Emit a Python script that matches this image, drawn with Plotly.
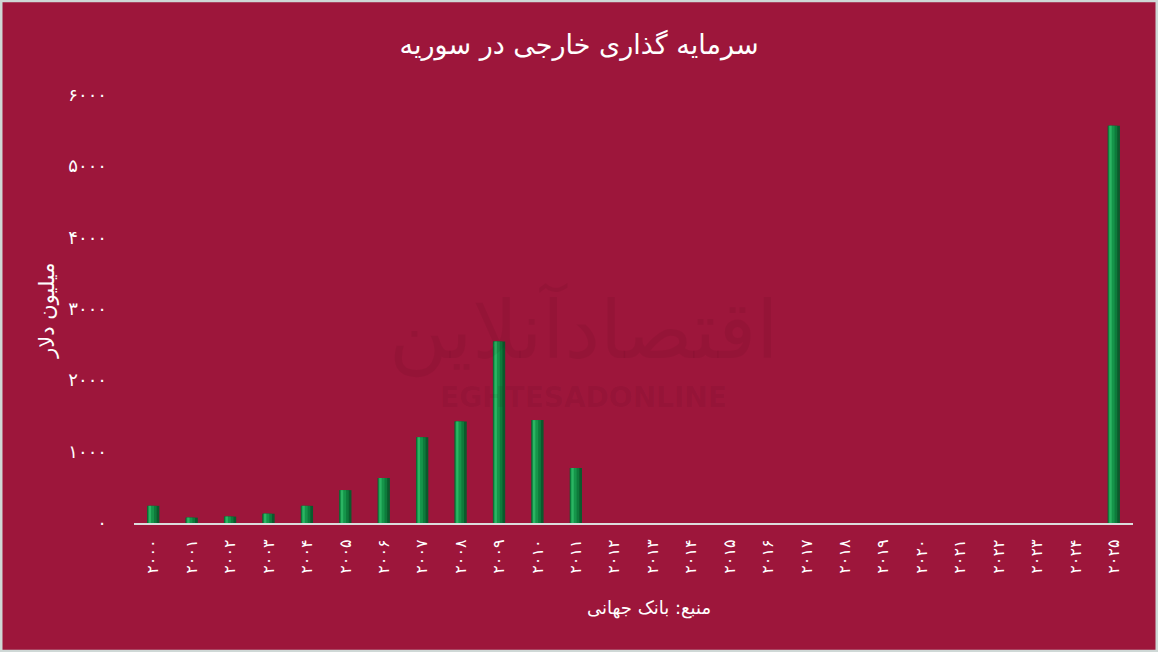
import plotly.graph_objects as go

years = ["۲۰۰۰", "۲۰۰۱", "۲۰۰۲", "۲۰۰۳", "۲۰۰۴", "۲۰۰۵", "۲۰۰۶", "۲۰۰۷", "۲۰۰۸",
         "۲۰۰۹", "۲۰۱۰", "۲۰۱۱", "۲۰۱۲", "۲۰۱۳", "۲۰۱۴", "۲۰۱۵", "۲۰۱۶", "۲۰۱۷",
         "۲۰۱۸", "۲۰۱۹", "۲۰۲۰", "۲۰۲۱", "۲۰۲۲", "۲۰۲۳", "۲۰۲۴", "۲۰۲۵"]
fdi = [240, 75, 90, 130, 240, 460, 630, 1200, 1420, 2540, 1440, 770,
       0, 0, 0, 0, 0, 0, 0, 0, 0, 0, 0, 0, 0, 5560]
y_ticks = [0, 1000, 2000, 3000, 4000, 5000, 6000]
y_tick_labels = ["۰", "۱۰۰۰", "۲۰۰۰", "۳۰۰۰", "۴۰۰۰", "۵۰۰۰", "۶۰۰۰"]

title_text = "سرمایه گذاری خارجی در سوریه"
y_title = "میلیون دلار"
x_title = "منبع: بانک جهانی"

BG = "#9d163b"
FONT = "DejaVu Sans"

fig = go.Figure()
# layered bars to imitate the cylindrical green gradient
layers = [
    (0.32, -0.16, "#0b5a2c"),
    (0.24, -0.15, "#0e7a3b"),
    (0.15, -0.13, "#15954a"),
    (0.06, -0.115, "#2bb563"),
]
for w, off, col in layers:
    fig.add_trace(go.Bar(x=years, y=fdi, width=w, offset=off,
                         marker=dict(color=col, line=dict(width=0)),
                         hoverinfo="skip", showlegend=False))

fig.update_layout(
    width=1158, height=652,
    paper_bgcolor=BG, plot_bgcolor=BG,
    barmode="overlay",
    margin=dict(l=134, r=25, t=90, b=129),
    font=dict(family=FONT, color="white"),
    title=dict(text=title_text, x=0.5, xanchor="center", y=1 - 45 / 652,
               yanchor="middle", font=dict(size=27, color="white", family=FONT)),
    xaxis=dict(type="category", tickangle=-90, showgrid=False, zeroline=False,
               showline=True, linecolor="#dcdcdc", linewidth=2,
               ticks="", tickfont=dict(size=16, color="white"),
               ticklabelstandoff=8),
    yaxis=dict(range=[0, 6060], tickvals=y_ticks, ticktext=y_tick_labels,
               showgrid=False, zeroline=False, showline=False, ticks="",
               tickfont=dict(size=18, color="white"), ticklabelstandoff=26),
    annotations=[
        dict(text=y_title, xref="paper", yref="paper", x=-87 / 999, y=0.49,
             xanchor="center", yanchor="middle", textangle=-90, showarrow=False,
             font=dict(size=21, color="white", family=FONT)),
        dict(text=x_title, xref="paper", yref="paper", x=0.516, y=-(608 - 523) / 433,
             xanchor="center", yanchor="middle", showarrow=False,
             font=dict(size=18, color="white", family=FONT)),
        dict(text="اقتصادآنلاین", xref="paper", yref="paper", x=0.45, y=(523 - 330) / 433,
             xanchor="center", yanchor="middle", showarrow=False,
             font=dict(size=80, color="rgba(60,0,15,0.07)", family=FONT)),
        dict(text="<b>EGHTESADONLINE</b>", xref="paper", yref="paper", x=0.45, y=(523 - 397) / 433,
             xanchor="center", yanchor="middle", showarrow=False,
             font=dict(size=28, color="rgba(60,0,15,0.07)", family=FONT)),
    ],
    shapes=[
        dict(type="rect", xref="paper", yref="paper",
             x0=-134 / 999 + 0.001, x1=(1158 - 134) / 999 - 0.001,
             y0=-129 / 433 + 0.002, y1=(652 - 129) / 433 - 0.002,
             line=dict(color="#cfd8d6", width=3), fillcolor="rgba(0,0,0,0)",
             layer="below"),
    ],
)

fig.write_html("out.html", config={"displayModeBar": False},
               post_script="document.body.style.margin='0';")
